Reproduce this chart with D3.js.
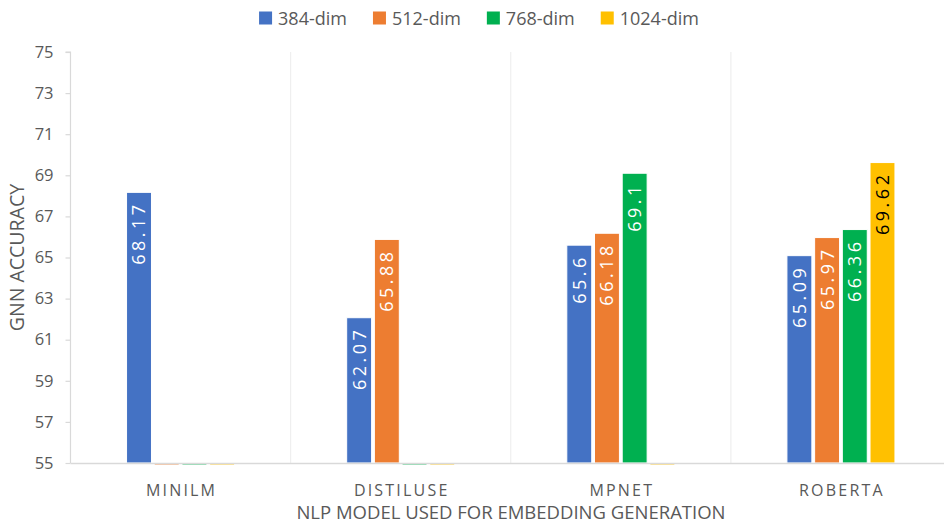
<!DOCTYPE html>
<html>
<head>
<meta charset="utf-8">
<script src="https://cdn.jsdelivr.net/npm/d3@7"></script>
<style>
  html, body { margin: 0; padding: 0; background: #fff; }
  svg { display: block; }
  text { font-family: "Open Sans", sans-serif; }
</style>
</head>
<body>
<svg id="chart" width="944" height="523"></svg>
<script>
// ---- data ----
const categories = ["MINILM", "DISTILUSE", "MPNET", "ROBERTA"];
const seriesNames = ["384-dim", "512-dim", "768-dim", "1024-dim"];
const seriesColors = ["#4472C4", "#ED7D31", "#00B050", "#FFC000"];
const labelColors = ["#ffffff", "#ffffff", "#ffffff", "#000000"];
const dim384  = [68.17, 62.07, 65.6, 65.09];
const dim512  = [0, 65.88, 66.18, 65.97];
const dim768  = [0, 0, 69.1, 66.36];
const dim1024 = [0, 0, 0, 69.62];
const seriesValues = [dim384, dim512, dim768, dim1024];
const yTicks = [55, 57, 59, 61, 63, 65, 67, 69, 71, 73, 75];
const xTitle = "NLP MODEL USED FOR EMBEDDING GENERATION";
const yTitle = "GNN ACCURACY";

(function () {
// ---- layout ----
const W = 944, H = 523;
const mLeft = 70.5, mRight = 951, mTop = 52, mBottom = 463;
const svg = d3.select("#chart");

const y = d3.scaleLinear().domain([55, 75]).range([mBottom, mTop]);
const x0 = d3.scaleBand().domain(categories).range([mLeft, mRight]).padding(0);
const groupW = 110.8;
const x1 = d3.scaleBand().domain(seriesNames)
  .range([x0.bandwidth() / 2 - groupW / 2, x0.bandwidth() / 2 + groupW / 2])
  .paddingInner(0.1).paddingOuter(0.05);

// vertical category separators
svg.append("g").selectAll("line")
  .data(categories.slice(1))
  .join("line")
  .attr("x1", d => x0(d)).attr("x2", d => x0(d))
  .attr("y1", mTop).attr("y2", mBottom)
  .attr("stroke", "#efefef").attr("stroke-width", 1.2);

// y axis
const yAxis = d3.axisLeft(y).tickValues(yTicks).tickSize(5).tickPadding(12).tickFormat(d3.format("d"));
const gy = svg.append("g").attr("transform", `translate(${mLeft},0)`).call(yAxis);
gy.select(".domain").attr("stroke", "#d9d9d9").attr("stroke-width", 1.2).attr("d", `M-5,${mTop}H0V${mBottom}`);
gy.selectAll(".tick line").attr("stroke", "#d9d9d9").attr("stroke-width", 1.2);
gy.selectAll(".tick text").attr("fill", "#595959").style("font-size", "16.5px")
  .style("font-family", "'Open Sans', sans-serif");

// bars
const rows = [];
categories.forEach((c, ci) => {
  seriesNames.forEach((s, si) => {
    rows.push({ cat: c, ser: s, si, value: seriesValues[si][ci] });
  });
});

const g = svg.append("g");
const bars = g.selectAll("g.bar").data(rows).join("g").attr("class", "bar")
  .attr("transform", d => `translate(${x0(d.cat) + x1(d.ser)},0)`);

bars.filter(d => d.value > 55).append("rect")
  .attr("x", 0).attr("width", x1.bandwidth())
  .attr("y", d => y(d.value)).attr("height", d => y(55) - y(d.value))
  .attr("fill", d => seriesColors[d.si])
  .attr("stroke", "#ffffff").attr("stroke-width", 1);

// zero values: thin clipped line at baseline
bars.filter(d => !(d.value > 55)).append("rect")
  .attr("x", 0.5).attr("width", x1.bandwidth() - 1)
  .attr("y", mBottom).attr("height", 1.8)
  .attr("fill", d => seriesColors[d.si]).attr("opacity", 0.55);

// baseline
svg.append("line").attr("x1", mLeft).attr("x2", W).attr("y1", mBottom + 0.5).attr("y2", mBottom + 0.5)
  .attr("stroke", "#d9d9d9").attr("stroke-width", 1.3);

// data labels
bars.filter(d => d.value > 55).append("text")
  .attr("transform", d => `translate(${x1.bandwidth() / 2},${y(d.value) + 9}) rotate(-90)`)
  .attr("text-anchor", "end")
  .attr("dy", "0.36em")
  .attr("fill", d => labelColors[d.si])
  .style("font-size", "18px")
  .style("font-weight", "500")
  .style("letter-spacing", "3.5px")
  .text(d => String(d.value));

// x category labels
svg.append("g").selectAll("text").data(categories).join("text")
  .attr("x", d => x0(d) + x0.bandwidth() / 2 + 1)
  .attr("y", 496)
  .attr("text-anchor", "middle")
  .attr("fill", "#595959")
  .style("font-size", "16px")
  .style("letter-spacing", "2.2px")
  .text(d => d);

// axis titles
svg.append("text").attr("x", 511).attr("y", 519).attr("text-anchor", "middle")
  .attr("fill", "#595959").style("font-size", "18.5px").text(xTitle);
svg.append("text").attr("transform", `translate(24,${(mTop + mBottom) / 2}) rotate(-90)`)
  .attr("text-anchor", "middle").attr("fill", "#595959").style("font-size", "19.5px").text(yTitle);

// legend
const lg = svg.append("g");
const items = lg.selectAll("g").data(seriesNames).join("g");
items.append("rect").attr("width", 13).attr("height", 13).attr("y", 11.5)
  .attr("fill", (d, i) => seriesColors[i]);
items.append("text").attr("x", 19).attr("y", 24.5).attr("fill", "#595959")
  .style("font-size", "18px").text(d => d);
let cx = 0;
const pos = [];
items.each(function () {
  const w = 19 + d3.select(this).select("text").node().getComputedTextLength();
  pos.push(cx);
  cx += w + 26;
});
const totalW = cx - 26;
const startX = 479 - totalW / 2;
items.attr("transform", (d, i) => `translate(${startX + pos[i]},0)`);
})();
</script>
</body>
</html>
